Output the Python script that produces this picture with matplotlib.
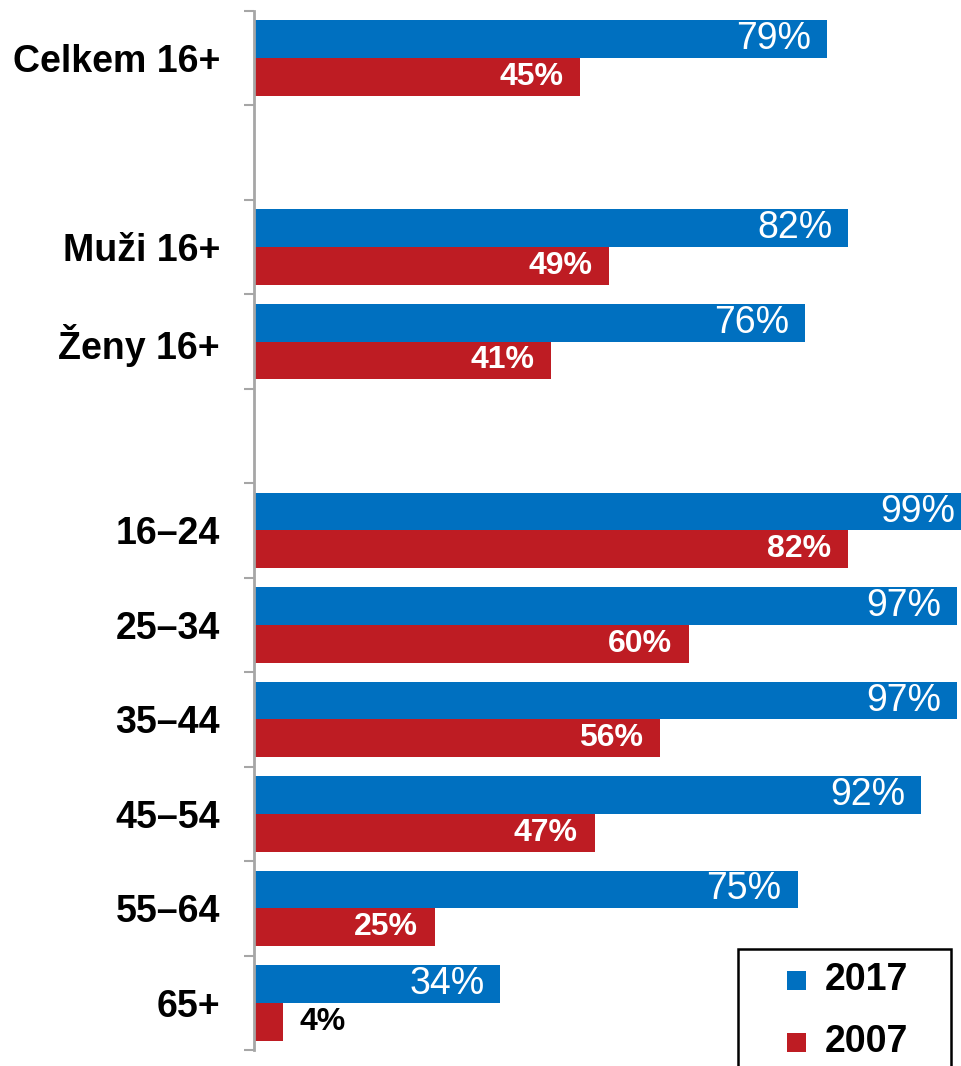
import matplotlib.pyplot as plt
from matplotlib.patches import Rectangle

plt.rcParams['font.family'] = ['Liberation Sans', 'DejaVu Sans']

# category slots (None = empty gap slot)
categories = ['Celkem 16+', None, 'Muži 16+', 'Ženy 16+', None,
              '16–24', '25–34', '35–44', '45–54', '55–64', '65+']
vals_2017 = [79, None, 82, 76, None, 99, 97, 97, 92, 75, 34]
vals_2007 = [45, None, 49, 41, None, 82, 60, 56, 47, 25, 4]
years = ['2017', '2007']

blue = '#0070C0'
red = '#BE1C23'
grey = '#A6A6A6'

W, H = 962, 1066
fig = plt.figure(figsize=(W / 100, H / 100), dpi=100)
left, right, top, bottom = 254, 962, 11, 1050
ax = fig.add_axes([left / W, 1 - bottom / H, (right - left) / W, (bottom - top) / H])

bh = 0.4
for i, (cat, a, b) in enumerate(zip(categories, vals_2017, vals_2007)):
    if cat is None:
        continue
    ax.barh(i - 0.2, a, height=bh, color=blue, linewidth=0)
    ax.barh(i + 0.2, b, height=bh, color=red, linewidth=0)
    ax.annotate(f'{a}%', (a, i - 0.2), xytext=(-16, 0), textcoords='offset pixels',
                ha='right', va='center', color='white', fontsize=27,
                annotation_clip=False)
    if b < 10:
        ax.annotate(f'{b}%', (b, i + 0.2), xytext=(17, 0), textcoords='offset pixels',
                    ha='left', va='center', color='black', fontsize=23, fontweight='bold')
    else:
        ax.annotate(f'{b}%', (b, i + 0.2), xytext=(-17, 0), textcoords='offset pixels',
                    ha='right', va='center', color='white', fontsize=23, fontweight='bold')

n = len(categories)
ax.set_ylim(n - 0.5, -0.5)
ax.set_xlim(0, (right - left) / 7.25)

# slot boundaries as ticks, labels at slot centres
ax.set_yticks([k - 0.5 for k in range(n + 1)])
ax.set_yticklabels([])
ax.set_yticks([k for k, c in enumerate(categories) if c is not None], minor=True)
ax.set_yticklabels([c for c in categories if c is not None], minor=True,
                   fontsize=27, fontweight='bold')
ax.tick_params(axis='y', which='major', length=7.5, width=1.5, color=grey, direction='out')
ax.tick_params(axis='y', which='minor', length=0, pad=24.5)
ax.set_xticks([])
for s in ['top', 'right', 'bottom']:
    ax.spines[s].set_visible(False)
ax.spines['left'].set_color(grey)
ax.spines['left'].set_linewidth(2)
ax.set_facecolor('none')

# legend box, drawn by hand so it can run off the bottom edge like the original
def px(x, y):
    return x / W, 1 - y / H

x0, y0 = px(738, 949)
x1, y1 = px(951, 1075)
fig.patches.append(Rectangle((x0, y1), x1 - x0, y0 - y1, transform=fig.transFigure,
                             facecolor='white', edgecolor='black', linewidth=1.8,
                             zorder=5))
for yr, col, yc in zip(years, [blue, red], [980, 1042]):
    mx, my = px(787, yc - 9.5)
    fig.patches.append(Rectangle((mx, my - 19 / H), 19 / W, 19 / H,
                                 transform=fig.transFigure, facecolor=col,
                                 edgecolor='none', zorder=6))
    tx, ty = px(825, yc)
    fig.text(tx, ty, yr, ha='left', va='center', fontsize=27, fontweight='bold',
             zorder=7)

fig.savefig('out.png', dpi=100)
